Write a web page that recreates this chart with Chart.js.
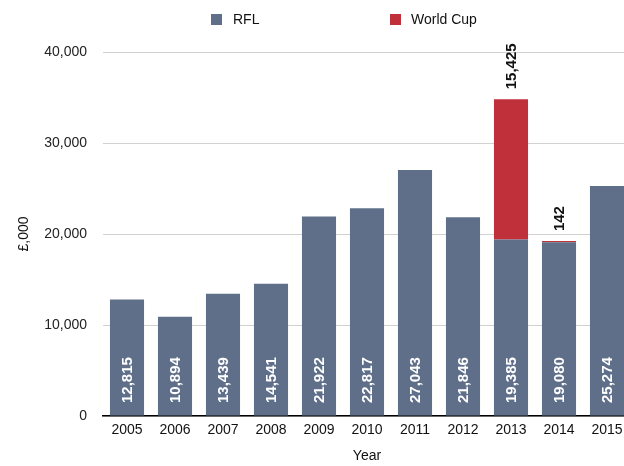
<!DOCTYPE html>
<html>
<head>
<meta charset="utf-8">
<script src="https://cdn.jsdelivr.net/npm/chart.js@4/dist/chart.umd.min.js"></script>
<style>
  html, body { margin: 0; padding: 0; overflow: hidden; background: #fff; }
  #wrap { width: 631px; height: 466px; }
</style>
</head>
<body>
<div id="wrap"><canvas id="c" width="631" height="466"></canvas></div>
<script>
const years = ['2005','2006','2007','2008','2009','2010','2011','2012','2013','2014','2015'];
const rfl = [12815, 10894, 13439, 14541, 21922, 22817, 27043, 21846, 19385, 19080, 25274];
const worldCup = [null, null, null, null, null, null, null, null, 15425, 142, null];
const yTicks = [0, 10000, 20000, 30000, 40000];

const FONT = "'Liberation Sans', Arial, Helvetica, sans-serif";
const RFL_COLOR = '#5f6f8a';
const WC_COLOR = '#bf303a';

function fmt(v) { return v.toLocaleString('en-US'); }

const labelPlugin = {
  id: 'barLabels',
  afterDatasetsDraw(chart) {
    const ctx = chart.ctx;
    const yScale = chart.scales.y;
    ctx.save();
    ctx.font = 'bold 15px ' + FONT;
    ctx.textBaseline = 'middle';
    ctx.textAlign = 'left';
    const m0 = chart.getDatasetMeta(0);
    m0.data.forEach((bar, i) => {
      const v = rfl[i];
      if (v == null) return;
      ctx.save();
      ctx.fillStyle = '#ffffff';
      ctx.translate(bar.x + 0.5, yScale.getPixelForValue(0) - 13);
      ctx.rotate(-Math.PI / 2);
      ctx.fillText(fmt(v), 0, 0);
      ctx.restore();
    });
    const m1 = chart.getDatasetMeta(1);
    m1.data.forEach((bar, i) => {
      const v = worldCup[i];
      if (v == null) return;
      ctx.save();
      ctx.fillStyle = '#111111';
      ctx.translate(bar.x + 0.5, bar.y - 10);
      ctx.rotate(-Math.PI / 2);
      ctx.fillText(fmt(v), 0, 0);
      ctx.restore();
    });
    ctx.restore();
  }
};

const legendPlugin = {
  id: 'customLegend',
  afterDraw(chart) {
    const ctx = chart.ctx;
    const items = [
      { label: chart.data.datasets[0].label, color: RFL_COLOR, box: 211, text: 233 },
      { label: chart.data.datasets[1].label, color: WC_COLOR, box: 390, text: 411 }
    ];
    ctx.save();
    ctx.font = '14px ' + FONT;
    ctx.textBaseline = 'middle';
    ctx.textAlign = 'left';
    items.forEach(it => {
      ctx.fillStyle = it.color;
      ctx.fillRect(it.box, 14, 11, 11);
      ctx.fillStyle = '#111';
      ctx.fillText(it.label, it.text, 20);
    });
    ctx.restore();
  }
};

new Chart(document.getElementById('c'), {
  type: 'bar',
  data: {
    labels: years,
    datasets: [
      { label: 'RFL', data: rfl, backgroundColor: RFL_COLOR, stack: 's', borderWidth: 0,
        barPercentage: 0.71, categoryPercentage: 1.0 },
      { label: 'World Cup', data: worldCup, backgroundColor: WC_COLOR, stack: 's', borderWidth: 0,
        barPercentage: 0.71, categoryPercentage: 1.0 }
    ]
  },
  options: {
    responsive: false,
    animation: false,
    layout: { padding: { top: 52, left: 0, right: 0, bottom: 0 } },
    plugins: {
      legend: { display: false },
      tooltip: { enabled: false }
    },
    scales: {
      x: {
        stacked: true,
        grid: { display: false, drawTicks: false },
        border: { display: true, color: '#000', width: 1.5 },
        ticks: { color: '#111', font: { family: FONT, size: 14 }, padding: 6, maxRotation: 0 },
        title: { display: true, text: 'Year', color: '#111', font: { family: FONT, size: 14 }, padding: { top: 4, bottom: 1 } },
        afterFit(scale) { scale.height = 50; }
      },
      y: {
        stacked: true,
        min: 0,
        max: 40000,
        afterBuildTicks(scale) { scale.ticks = yTicks.map(v => ({ value: v })); },
        grid: { color: '#d2d2d2', lineWidth: 1, drawTicks: false },
        border: { display: false },
        ticks: { color: '#222', font: { family: FONT, size: 14 }, padding: 16,
                 callback: v => fmt(v) },
        title: { display: true, text: '£,000', color: '#111', font: { family: FONT, size: 14 }, padding: { top: 16, bottom: 0 } },
        afterFit(scale) { scale.width = 103; }
      }
    }
  },
  plugins: [labelPlugin, legendPlugin]
});
</script>
</body>
</html>
